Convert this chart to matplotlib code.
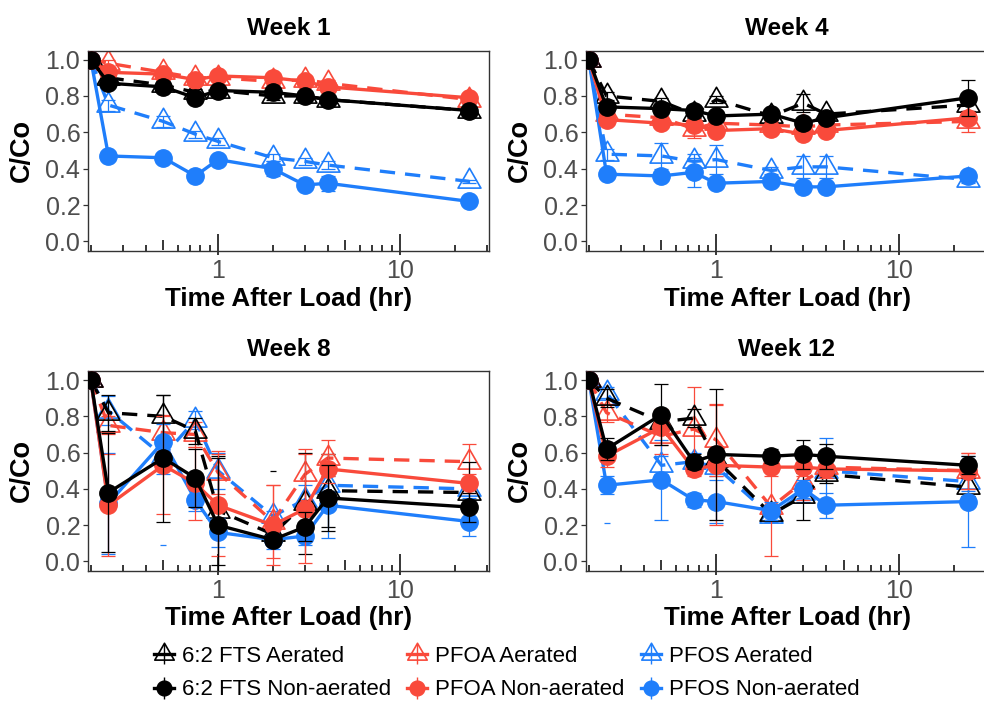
import numpy as np
import matplotlib
matplotlib.use("Agg")
import matplotlib.pyplot as plt
from matplotlib.path import Path
from matplotlib.lines import Line2D
from matplotlib.legend_handler import HandlerTuple
from matplotlib.ticker import FixedLocator, NullLocator, NullFormatter, FixedFormatter

plt.rcParams['font.family'] = ['Liberation Sans', 'DejaVu Sans']

# ---------------- data ----------------
times = [0.2, 0.25, 0.5, 0.75, 1, 2, 3, 4, 24]
weeks = ["Week 1", "Week 4", "Week 8", "Week 12"]
compounds = ["6:2 FTS", "PFOA", "PFOS"]
treatments = ["Aerated", "Non-aerated"]

# Week 1
fts_aer_w1 = [1.0, 0.90, 0.86, 0.82, 0.83, 0.80, 0.80, 0.78, 0.72]
fts_non_w1 = [1.0, 0.87, 0.85, 0.79, 0.83, 0.82, 0.80, 0.78, 0.72]
pfoa_aer_w1 = [1.0, 0.98, 0.93, 0.90, 0.90, 0.88, 0.89, 0.87, 0.78]
pfoa_non_w1 = [1.0, 0.93, 0.92, 0.89, 0.91, 0.90, 0.88, 0.85, 0.79]
pfos_aer_w1 = [1.0, 0.75, 0.66, 0.59, 0.55, 0.46, 0.44, 0.42, 0.33]
pfos_non_w1 = [1.0, 0.47, 0.46, 0.36, 0.45, 0.40, 0.31, 0.32, 0.22]
fts_aer_sd_w1 = [0, 0.02, 0.02, 0.02, 0.02, 0.02, 0.02, 0.02, 0.01]
fts_non_sd_w1 = [0, 0.02, 0.02, 0.02, 0.02, 0.02, 0.02, 0.02, 0.01]
pfoa_aer_sd_w1 = [0, 0.02, 0.02, 0.02, 0.02, 0.02, 0.02, 0.02, 0.02]
pfoa_non_sd_w1 = [0, 0.02, 0.02, 0.02, 0.02, 0.02, 0.02, 0.02, 0.02]
pfos_aer_sd_w1 = [0, 0.03, 0.03, 0.02, 0.02, 0.02, 0.02, 0.02, 0.01]
pfos_non_sd_w1 = [0, 0.02, 0.02, 0.02, 0.02, 0.04, 0.02, 0.04, 0.01]

# Week 4
fts_aer_w4 = [1.0, 0.80, 0.77, 0.70, 0.78, 0.69, 0.76, 0.70, 0.75]
fts_non_w4 = [1.0, 0.74, 0.73, 0.72, 0.69, 0.70, 0.65, 0.68, 0.79]
pfoa_aer_w4 = [1.0, 0.70, 0.68, 0.62, 0.65, 0.64, 0.63, 0.64, 0.66]
pfoa_non_w4 = [1.0, 0.67, 0.65, 0.64, 0.61, 0.62, 0.59, 0.61, 0.68]
pfos_aer_w4 = [1.0, 0.48, 0.47, 0.44, 0.45, 0.39, 0.41, 0.41, 0.34]
pfos_non_w4 = [1.0, 0.37, 0.36, 0.38, 0.32, 0.33, 0.30, 0.30, 0.36]
fts_aer_sd_w4 = [0, 0.02, 0.02, 0.02, 0.02, 0.02, 0.05, 0.02, 0.03]
fts_non_sd_w4 = [0, 0.02, 0.02, 0.03, 0.02, 0.02, 0.03, 0.02, 0.10]
pfoa_aer_sd_w4 = [0, 0.02, 0.02, 0.05, 0.02, 0.02, 0.02, 0.02, 0.06]
pfoa_non_sd_w4 = [0, 0.02, 0.02, 0.02, 0.02, 0.02, 0.02, 0.02, 0.03]
pfos_aer_sd_w4 = [0, 0.03, 0.07, 0.04, 0.08, 0.02, 0.06, 0.06, 0.02]
pfos_non_sd_w4 = [0, 0.02, 0.02, 0.08, 0.02, 0.02, 0.02, 0.02, 0.03]

# Week 8
fts_aer_w8 = [1.0, 0.82, 0.80, 0.72, 0.28, 0.15, 0.32, 0.39, 0.38]
fts_non_w8 = [1.0, 0.38, 0.57, 0.46, 0.20, 0.12, 0.19, 0.35, 0.30]
pfoa_aer_w8 = [1.0, 0.75, 0.71, 0.70, 0.49, 0.22, 0.48, 0.57, 0.55]
pfoa_non_w8 = [1.0, 0.31, 0.53, 0.43, 0.31, 0.20, 0.29, 0.51, 0.43]
pfos_aer_w8 = [1.0, 0.83, 0.58, 0.78, 0.50, 0.25, 0.34, 0.42, 0.40]
pfos_non_w8 = [1.0, 0.32, 0.66, 0.34, 0.16, 0.12, 0.14, 0.31, 0.22]
fts_aer_sd_w8 = [0, 0.10, 0.12, 0.07, 0.30, 0.05, 0.28, 0.20, 0.17]
fts_non_sd_w8 = [0, 0.33, 0.35, 0.16, 0.37, 0.03, 0.08, 0.18, 0.08]
pfoa_aer_sd_w8 = [0, 0.05, 0.10, 0.07, 0.12, 0.20, 0.14, 0.10, 0.10]
pfoa_non_sd_w8 = [0, 0.28, 0.27, 0.20, 0.28, 0.22, 0.30, 0.08, 0.05]
pfos_aer_sd_w8 = [0, 0.08, 0.10, 0.05, 0.10, 0.03, 0.08, 0.05, 0.05]
pfos_non_sd_w8 = [0, 0.28, 0.10, 0.06, 0.08, 0.05, 0.05, 0.18, 0.08]

# Week 12
fts_aer_w12 = [1.0, 0.90, 0.77, 0.79, 0.56, 0.26, 0.36, 0.48, 0.41]
fts_non_w12 = [1.0, 0.62, 0.81, 0.55, 0.59, 0.58, 0.59, 0.58, 0.53]
pfoa_aer_w12 = [1.0, 0.82, 0.69, 0.73, 0.67, 0.30, 0.44, 0.52, 0.50]
pfoa_non_w12 = [1.0, 0.58, 0.74, 0.51, 0.53, 0.52, 0.52, 0.51, 0.50]
pfos_aer_w12 = [1.0, 0.93, 0.53, 0.55, 0.52, 0.25, 0.38, 0.50, 0.44]
pfos_non_w12 = [1.0, 0.42, 0.45, 0.34, 0.33, 0.28, 0.40, 0.31, 0.33]
fts_aer_sd_w12 = [0, 0.05, 0.05, 0.05, 0.05, 0.03, 0.13, 0.05, 0.05]
fts_non_sd_w12 = [0, 0.06, 0.17, 0.04, 0.36, 0.04, 0.08, 0.07, 0.05]
pfoa_aer_sd_w12 = [0, 0.05, 0.10, 0.23, 0.20, 0.27, 0.10, 0.05, 0.10]
pfoa_non_sd_w12 = [0, 0.06, 0.10, 0.04, 0.33, 0.05, 0.05, 0.05, 0.10]
pfos_aer_sd_w12 = [0, 0.03, 0.05, 0.05, 0.05, 0.03, 0.05, 0.18, 0.05]
pfos_non_sd_w12 = [0, 0.05, 0.22, 0.04, 0.12, 0.05, 0.05, 0.07, 0.25]

# isolated error-bar caps seen in the reference (time, C/Co, compound index)
stray_caps_w8 = [(0.5, 0.09, 2), (2, 0.50, 0)]
stray_caps_w12 = [(0.25, 0.21, 2)]

panels = [
    dict(aer=[fts_aer_w1, pfoa_aer_w1, pfos_aer_w1], non=[fts_non_w1, pfoa_non_w1, pfos_non_w1],
         aer_sd=[fts_aer_sd_w1, pfoa_aer_sd_w1, pfos_aer_sd_w1], non_sd=[fts_non_sd_w1, pfoa_non_sd_w1, pfos_non_sd_w1],
         caps=[]),
    dict(aer=[fts_aer_w4, pfoa_aer_w4, pfos_aer_w4], non=[fts_non_w4, pfoa_non_w4, pfos_non_w4],
         aer_sd=[fts_aer_sd_w4, pfoa_aer_sd_w4, pfos_aer_sd_w4], non_sd=[fts_non_sd_w4, pfoa_non_sd_w4, pfos_non_sd_w4],
         caps=[]),
    dict(aer=[fts_aer_w8, pfoa_aer_w8, pfos_aer_w8], non=[fts_non_w8, pfoa_non_w8, pfos_non_w8],
         aer_sd=[fts_aer_sd_w8, pfoa_aer_sd_w8, pfos_aer_sd_w8], non_sd=[fts_non_sd_w8, pfoa_non_sd_w8, pfos_non_sd_w8],
         caps=stray_caps_w8),
    dict(aer=[fts_aer_w12, pfoa_aer_w12, pfos_aer_w12], non=[fts_non_w12, pfoa_non_w12, pfos_non_w12],
         aer_sd=[fts_aer_sd_w12, pfoa_aer_sd_w12, pfos_aer_sd_w12], non_sd=[fts_non_sd_w12, pfoa_non_sd_w12, pfos_non_sd_w12],
         caps=stray_caps_w12),
]

# ---------------- style ----------------
colors = ["#000000", "#F94A3B", "#1F7EFB"]
tri = Path([(0, 1.555), (1.347, -0.778), (-1.347, -0.778), (0, 1.555)],
           [Path.MOVETO, Path.LINETO, Path.LINETO, Path.CLOSEPOLY])
LW = 2.4
DASH = (4.6, 3.0)
TRI_MS = 19
CIR_MS = 12.5

W, H = 984, 702
fig = plt.figure(figsize=(W / 100, H / 100), dpi=100)

boxes = [(88, 50.5, 401, 200), (586, 50.5, 402, 200),
         (88, 371, 401, 199.5), (586, 371, 402, 199.5)]

draw_order = [2, 1, 0]  # blue, red, black (black on top)

for k, (box, pdata) in enumerate(zip(boxes, panels)):
    l, t, w, h = box
    ax = fig.add_axes([l / W, 1 - (t + h) / H, w / W, h / H])
    ax.set_xscale('log')
    ax.set_xlim(0.193, 30.8)
    ax.set_ylim(-0.05, 1.05)

    z = 2
    for key, sdkey, aerated in [("aer", "aer_sd", True), ("non", "non_sd", False)]:
        for ci in draw_order:
            y = np.array(pdata[key][ci])
            e = np.array(pdata[sdkey][ci])
            c = colors[ci]
            ax.errorbar(times, y, yerr=e, fmt='none', ecolor=c, elinewidth=0.9,
                        capsize=5, capthick=0.9, zorder=z)
            if aerated:
                ln, = ax.plot(times, y, color=c, lw=LW, ls='--', zorder=z + 0.1,
                              marker=tri, ms=TRI_MS, mfc='none', mec=c, mew=1.2)
                ln.set_dashes(DASH)
                ln.set_dash_capstyle('butt')
            else:
                ax.plot(times, y, color=c, lw=LW, ls='-', zorder=z + 0.1,
                        marker='o', ms=CIR_MS, mfc=c, mec=c)
            z += 0.2
    for (tx, ty, ci) in pdata["caps"]:
        ax.plot([tx], [ty], marker='_', ms=5, mew=0.9, color=colors[ci], ls='none', zorder=z)

    # y axis
    ax.set_yticks([0, 0.2, 0.4, 0.6, 0.8, 1.0])
    ax.set_yticklabels(["0.0", "0.2", "0.4", "0.6", "0.8", "1.0"])
    ax.tick_params(axis='y', direction='out', length=3.5, width=0.9, color='#333333',
                   labelsize=18, labelcolor='#4D4D4D', pad=2)

    # x axis: log ticks drawn inside (long at decades, mid at 5s, short otherwise)
    ax.xaxis.set_major_locator(FixedLocator([1, 10]))
    ax.xaxis.set_major_formatter(FixedFormatter(["1", "10"]))
    ax.xaxis.set_minor_locator(FixedLocator([0.2, 0.3, 0.4, 0.6, 0.7, 0.8, 0.9,
                                             2, 3, 4, 6, 7, 8, 9, 20, 30]))
    ax.xaxis.set_minor_formatter(NullFormatter())
    ax.tick_params(axis='x', which='major', direction='in', length=12, width=1.1,
                   color='black', labelsize=18, labelcolor='#4D4D4D', pad=6)
    ax.tick_params(axis='x', which='minor', direction='in', length=4, width=1.1, color='black')

    sec = ax.secondary_xaxis('bottom')
    sec.xaxis.set_major_locator(FixedLocator([0.5, 5]))
    sec.xaxis.set_minor_locator(NullLocator())
    sec.xaxis.set_major_formatter(NullFormatter())
    sec.tick_params(axis='x', direction='in', length=8, width=1.1, color='black')
    sec.spines['bottom'].set_visible(False)

    sec2 = ax.secondary_xaxis('bottom')
    sec2.xaxis.set_major_locator(FixedLocator([1, 10]))
    sec2.xaxis.set_minor_locator(NullLocator())
    sec2.xaxis.set_major_formatter(NullFormatter())
    sec2.tick_params(axis='x', direction='out', length=3, width=1.1, color='black')
    sec2.spines['bottom'].set_visible(False)

    for s in ax.spines.values():
        s.set_color('#333333')
        s.set_linewidth(1.0)

    ax.set_title(weeks[k], fontsize=17.5, fontweight='bold', pad=11)
    ax.set_xlabel("Time After Load (hr)", fontsize=18.7, fontweight='bold')
    ax.xaxis.set_label_coords(0.5, -0.18)
    ax.set_ylabel("C/Co", fontsize=19.5, fontweight='bold')
    ax.yaxis.set_label_coords(-0.133, 0.5)

# ---------------- legend ----------------
handles, labels = [], []
for ci, cname in enumerate(compounds):
    c = colors[ci]
    h_a = (Line2D([], [], color=c, lw=LW, marker=tri, ms=TRI_MS * 0.85, mfc='none', mec=c, mew=1.2),
           Line2D([], [], color=c, ls='none', marker='|', ms=14, mew=1.0))
    h_n = (Line2D([], [], color=c, lw=LW, marker='o', ms=CIR_MS * 0.85, mfc=c, mec=c),
           Line2D([], [], color=c, ls='none', marker='|', ms=16, mew=1.0))
    handles += [h_a, h_n]
    labels += [f"{cname} {treatments[0]}", f"{cname} {treatments[1]}"]

fig.legend(handles, labels, ncol=3, loc='center', bbox_to_anchor=(0.515, 0.041),
           frameon=False, fontsize=16, handlelength=0.9, handletextpad=0.35,
           columnspacing=0.75, labelspacing=0.55,
           handler_map={tuple: HandlerTuple(ndivide=1)})

fig.savefig("out.png", dpi=100)
